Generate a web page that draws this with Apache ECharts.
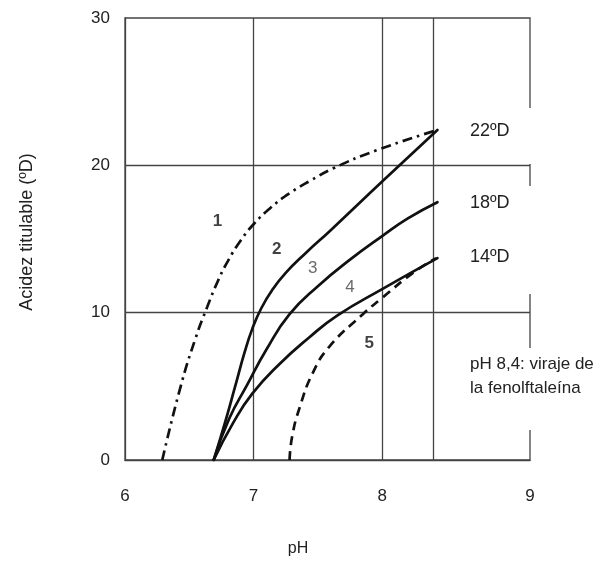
<!DOCTYPE html>
<html>
<head>
<meta charset="utf-8">
<script src="https://cdn.jsdelivr.net/npm/echarts@6/dist/echarts.min.js"></script>
<style>
html,body{margin:0;padding:0;background:#fff;}
#c{width:609px;height:562px;}
</style>
</head>
<body>
<div id="c"></div>
<script>
// pH tick positions and labels (the drawing's right edge is labelled 9)
var xTickValues = [6, 7, 8, 9.15];
var xTickLabels = ['6', '7', '8', '9'];
var gridX = [7, 8, 8.4];
var gridY = [10, 20];

// curves [pH, acidez titulable ºD]
var curve1 = [[6.29,0],[6.43,4.9],[6.55,8.3],[6.64,10.4],[6.72,12.1],[6.8,13.5],[6.9,14.9],[7.0,16.0],[7.13,17.1],[7.28,18.1],[7.45,19.0],[7.62,19.8],[7.95,21.0],[8.43,22.4]];
var curve2 = [[6.69,0],[6.78,2.6],[6.86,5.1],[6.93,7.3],[6.99,8.9],[7.06,10.3],[7.15,11.6],[7.25,12.7],[7.4,14.0],[7.6,15.6],[8.0,18.9],[8.43,22.4]];
var curve3 = [[6.69,0],[6.81,2.8],[6.95,5.1],[7.1,7.5],[7.28,9.9],[7.5,11.8],[7.75,13.6],[8.0,15.2],[8.2,16.4],[8.43,17.5]];
var curve4 = [[6.69,0],[6.84,2.5],[6.99,4.5],[7.2,6.5],[7.43,8.3],[7.65,9.8],[8.0,11.6],[8.43,13.7]];
var curve5 = [[7.28,0],[7.3,1.6],[7.36,3.6],[7.46,5.9],[7.59,7.7],[7.85,9.9],[8.0,11.0],[8.24,12.7],[8.42,13.7]];

// curve number labels
var curveNames = ['1', '2', '3', '4', '5'];
var curveNamePos = [[6.72,16.2],[7.18,14.3],[7.46,13.0],[7.75,11.7],[7.90,7.9]];
var curveNameBold = [true, true, false, false, true];

var rightLabels = ['22ºD', '18ºD', '14ºD'];
var noteLines = ['pH 8,4: viraje de', 'la fenolftaleína'];

var FONT = 'Liberation Sans, Arial, sans-serif';
var LC = '#444';
var TC = '#222';

function curveSeries(data, dash) {
  return {
    type: 'line', data: data, smooth: 0.5, symbol: 'none', silent: true, z: 5,
    lineStyle: {color: '#111', width: 2.7, type: dash || 'solid', cap: dash ? 'butt' : 'round'}
  };
}

var series = [
  curveSeries(curve1, [10, 5, 2.5, 5]),
  curveSeries(curve2),
  curveSeries(curve3),
  curveSeries(curve4),
  curveSeries(curve5, [9, 6])
];
series[0].markLine = {
  symbol: 'none', silent: true, z: 1,
  label: {show: false},
  lineStyle: {color: LC, width: 1.3, type: 'solid'},
  data: gridX.map(function (v) { return {xAxis: v}; })
        .concat(gridY.map(function (v) { return {yAxis: v}; }))
};
series.push({
  type: 'scatter', symbolSize: 0, silent: true, z: 6,
  data: curveNamePos.map(function (p, i) {
    return {value: p, label: {fontWeight: curveNameBold[i] ? 'bold' : 'normal', color: curveNameBold[i] ? '#111' : '#444'}};
  }),
  label: {
    show: true, position: 'inside', fontSize: 17, fontFamily: FONT,
    formatter: function (p) { return curveNames[p.dataIndex]; }
  }
});

function txt(s, x, y, size) {
  return {type: 'text', z: 101, x: x, y: y,
    style: {text: s, fontSize: size, fontFamily: FONT, fill: TC, verticalAlign: 'middle', align: 'left'}};
}

var graphic = [
  {type: 'rect', z: 100, shape: {x: 456, y: 108, width: 80, height: 56}, style: {fill: '#fff'}},
  {type: 'rect', z: 100, shape: {x: 445, y: 186, width: 90, height: 108}, style: {fill: '#fff'}},
  {type: 'rect', z: 100, shape: {x: 462, y: 348, width: 147, height: 82}, style: {fill: '#fff'}},
  txt(rightLabels[0], 470, 131, 18),
  txt(rightLabels[1], 470, 203, 18),
  txt(rightLabels[2], 470, 257, 18),
  txt(noteLines[0], 470, 364, 17),
  txt(noteLines[1], 470, 388, 17)
];

var chart = echarts.init(document.getElementById('c'), null, {renderer: 'canvas'});
chart.setOption({
  backgroundColor: '#fff',
  animation: false,
  grid: {left: 125, right: 79, top: 18, bottom: 102, show: true, borderColor: LC, borderWidth: 1.3, backgroundColor: 'transparent'},
  xAxis: {
    type: 'value', min: 6, max: 9.15,
    name: 'pH', nameLocation: 'middle', nameGap: 81,
    nameTextStyle: {fontSize: 16, fontFamily: FONT, color: TC, padding: [0, 59, 0, 0]},
    axisLine: {show: true, lineStyle: {color: LC, width: 1.3}},
    axisTick: {show: false},
    splitLine: {show: false},
    axisLabel: {
      customValues: xTickValues, margin: 28, fontSize: 17, fontFamily: FONT, color: TC,
      formatter: function (v) { return xTickLabels[xTickValues.indexOf(v)]; }
    }
  },
  yAxis: {
    type: 'value', min: 0, max: 30, interval: 10,
    name: 'Acidez titulable (ºD)', nameLocation: 'middle', nameGap: 89, nameRotate: 90,
    nameTextStyle: {fontSize: 18, fontFamily: FONT, color: TC, padding: [0, 0, 0, 14]},
    axisLine: {show: true, lineStyle: {color: LC, width: 1.3}},
    axisTick: {show: false},
    splitLine: {show: false},
    axisLabel: {margin: 15, fontSize: 17, fontFamily: FONT, color: TC}
  },
  series: series,
  graphic: graphic
});
</script>
</body>
</html>
